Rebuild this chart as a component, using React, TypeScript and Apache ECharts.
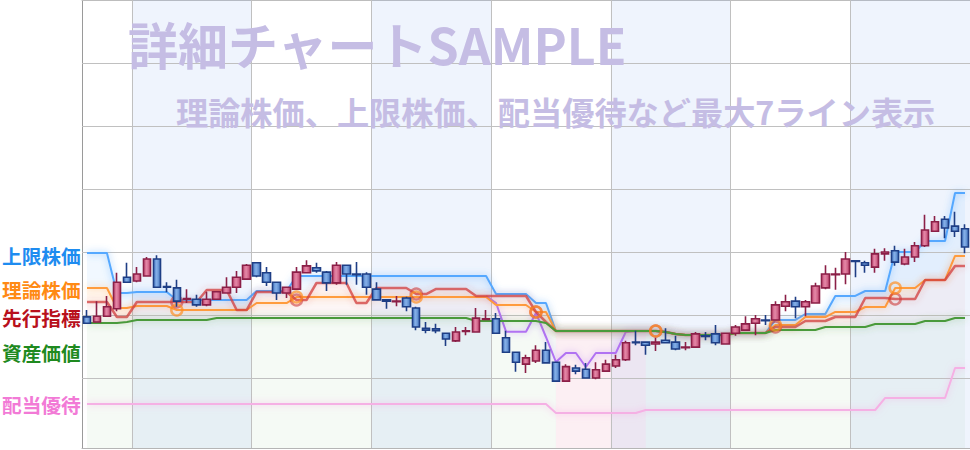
import React, { useEffect, useRef } from 'react';
import * as echarts from 'echarts';

// [open, close, low, high]
const CANDLES: number[][] = [
  [1097, 1087, 1086, 1108], [1089, 1098, 1089, 1122], [1098, 1113, 1098, 1130], [1110, 1152, 1106, 1167],
  [1160, 1152, 1152, 1183], [1154, 1165, 1152, 1176], [1162, 1189, 1162, 1192], [1189, 1144, 1144, 1195],
  [1145, 1144, 1136, 1152], [1143, 1122, 1113, 1156], [1125, 1126, 1119, 1141], [1125, 1116, 1113, 1132],
  [1116, 1125, 1114, 1137], [1125, 1137, 1124, 1138], [1135, 1144, 1135, 1160], [1144, 1160, 1135, 1170],
  [1157, 1179, 1157, 1181], [1183, 1162, 1160, 1184], [1167, 1152, 1146, 1176], [1152, 1135, 1124, 1152],
  [1135, 1144, 1127, 1144], [1141, 1168, 1140, 1176], [1167, 1178, 1167, 1187], [1175, 1170, 1167, 1183],
  [1168, 1151, 1138, 1170], [1151, 1179, 1148, 1184], [1179, 1165, 1148, 1179], [1165, 1164, 1148, 1184],
  [1165, 1144, 1132, 1168], [1141, 1124, 1124, 1152], [1124, 1122, 1110, 1124], [1121, 1122, 1114, 1130],
  [1127, 1113, 1106, 1129], [1111, 1081, 1076, 1113], [1079, 1076, 1071, 1089], [1078, 1075, 1071, 1086],
  [1071, 1062, 1051, 1071], [1059, 1073, 1057, 1081], [1074, 1075, 1068, 1081], [1073, 1095, 1073, 1111],
  [1093, 1094, 1092, 1108], [1094, 1071, 1071, 1103], [1064, 1041, 1041, 1075], [1041, 1025, 1010, 1041],
  [1022, 1032, 1008, 1037], [1027, 1044, 1024, 1052], [1044, 1024, 1024, 1057], [1025, 995, 995, 1025],
  [995, 1018, 995, 1022], [1016, 1011, 1006, 1021], [1014, 1000, 1000, 1024], [1000, 1013, 998, 1025],
  [1011, 1022, 1010, 1029], [1019, 1029, 1016, 1037], [1029, 1056, 1027, 1059], [1057, 1056, 1052, 1075],
  [1057, 1052, 1037, 1057], [1054, 1057, 1043, 1064], [1060, 1056, 1056, 1079], [1057, 1046, 1044, 1067],
  [1048, 1049, 1044, 1057], [1049, 1070, 1048, 1073], [1067, 1066, 1060, 1073], [1070, 1056, 1052, 1084],
  [1054, 1071, 1054, 1071], [1071, 1081, 1067, 1084], [1076, 1086, 1075, 1098], [1087, 1094, 1068, 1100],
  [1092, 1091, 1084, 1100], [1092, 1116, 1091, 1122], [1114, 1121, 1106, 1132], [1122, 1113, 1095, 1129],
  [1113, 1121, 1098, 1124], [1119, 1146, 1118, 1151], [1143, 1165, 1141, 1179], [1164, 1165, 1140, 1175],
  [1165, 1189, 1149, 1200], [1186, 1185, 1160, 1187], [1183, 1179, 1167, 1186], [1176, 1197, 1167, 1205],
  [1197, 1200, 1186, 1206], [1202, 1184, 1178, 1210], [1181, 1192, 1179, 1205], [1192, 1210, 1184, 1216],
  [1210, 1235, 1208, 1259], [1233, 1248, 1232, 1257], [1252, 1238, 1222, 1257], [1241, 1233, 1224, 1264],
  [1237, 1208, 1198, 1244],
];

const CATEGORIES = CANDLES.map((_, i) => String(i + 1));

// 上限株価
const UPPER = [
  1198.4, 1198.4, 1198.4, 1134.9, 1134.9, 1136.5, 1136.5, 1136.5, 1136.5, 1123.8, 1123.8, 1123.8,
  1123.8, 1123.8, 1123.8, 1123.8, 1123.8, 1138.1, 1138.1, 1138.1, 1138.1, 1161.9, 1161.9, 1161.9,
  1161.9, 1161.9, 1161.9, 1161.9, 1161.9, 1161.9, 1161.9, 1161.9, 1161.9, 1161.9, 1161.9, 1161.9,
  1161.9, 1161.9, 1161.9, 1161.9, 1161.9, 1133.3, 1133.3, 1133.3, 1133.3, 1119.0, 1119.0, 1074.6,
  1074.6, 1074.6, 1074.6, 1074.6, 1074.6, 1074.6, 1074.6, 1074.6, 1074.6, 1074.6, 1073.0, 1069.8,
  1068.3, 1068.3, 1068.3, 1068.3, 1068.3, 1071.4, 1071.4, 1071.4, 1071.4, 1092.1, 1092.1, 1092.1,
  1101.6, 1101.6, 1101.6, 1130.2, 1130.2, 1130.2, 1138.1, 1138.1, 1138.1, 1200.0, 1200.0, 1200.0,
  1217.5, 1217.5, 1217.5, 1293.7, 1293.7,
];

// 理論株価
const THEORY = [
  1142.9, 1142.9, 1142.9, 1111.1, 1111.1, 1114.3, 1114.3, 1114.3, 1114.3, 1107.9, 1107.9, 1107.9,
  1107.9, 1107.9, 1107.9, 1107.9, 1107.9, 1119.0, 1119.0, 1119.0, 1119.0, 1128.6, 1128.6, 1128.6,
  1128.6, 1128.6, 1128.6, 1128.6, 1128.6, 1128.6, 1128.6, 1128.6, 1128.6, 1128.6, 1128.6, 1128.6,
  1128.6, 1128.6, 1128.6, 1128.6, 1128.6, 1115.9, 1115.9, 1115.9, 1115.9, 1104.8, 1104.8, 1074.6,
  1074.6, 1074.6, 1074.6, 1074.6, 1074.6, 1074.6, 1074.6, 1074.6, 1074.6, 1074.6, 1073.0, 1069.8,
  1068.3, 1068.3, 1068.3, 1068.3, 1068.3, 1071.4, 1071.4, 1071.4, 1071.4, 1084.1, 1084.1, 1084.1,
  1096.8, 1096.8, 1096.8, 1104.8, 1104.8, 1104.8, 1112.7, 1112.7, 1112.7, 1142.9, 1142.9, 1142.9,
  1155.6, 1155.6, 1155.6, 1193.7, 1193.7,
];

// 先行指標
const LEADING = [
  1120.6, 1120.6, 1120.6, 1096.8, 1096.8, 1120.6, 1120.6, 1120.6, 1120.6, 1120.6, 1120.6, 1120.6,
  1139.7, 1139.7, 1139.7, 1107.9, 1107.9, 1136.5, 1136.5, 1136.5, 1136.5, 1123.8, 1123.8, 1150.8,
  1150.8, 1150.8, 1150.8, 1119.0, 1119.0, 1142.9, 1142.9, 1142.9, 1142.9, 1133.3, 1133.3, 1141.3,
  1141.3, 1141.3, 1141.3, 1130.2, 1130.2, 1130.2, 1130.2, 1130.2, 1130.2, 1104.8, 1088.9, 1074.6,
  1074.6, 1074.6, 1074.6, 1074.6, 1074.6, 1074.6, 1074.6, 1074.6, 1074.6, 1074.6, 1073.0, 1069.8,
  1068.3, 1068.3, 1068.3, 1068.3, 1068.3, 1071.4, 1071.4, 1071.4, 1071.4, 1081.0, 1081.0, 1081.0,
  1090.5, 1090.5, 1090.5, 1096.8, 1096.8, 1096.8, 1127.0, 1127.0, 1127.0, 1125.4, 1125.4, 1125.4,
  1155.6, 1155.6, 1155.6, 1177.8, 1177.8,
];

// 資産価値
const ASSET = [
  1087.3, 1087.3, 1087.3, 1087.3, 1088.9, 1092.1, 1092.1, 1092.1, 1092.1, 1092.1, 1092.1, 1092.1,
  1092.1, 1095.2, 1095.2, 1095.2, 1095.2, 1095.2, 1095.2, 1095.2, 1095.2, 1095.2, 1095.2, 1095.2,
  1095.2, 1095.2, 1095.2, 1095.2, 1095.2, 1095.2, 1095.2, 1095.2, 1095.2, 1095.2, 1095.2, 1095.2,
  1095.2, 1095.2, 1095.2, 1090.5, 1090.5, 1090.5, 1090.5, 1090.5, 1090.5, 1090.5, 1087.3, 1074.6,
  1074.6, 1074.6, 1074.6, 1074.6, 1074.6, 1074.6, 1074.6, 1074.6, 1074.6, 1074.6, 1073.0, 1069.8,
  1068.3, 1068.3, 1068.3, 1068.3, 1068.3, 1071.4, 1071.4, 1071.4, 1071.4, 1076.2, 1076.2, 1076.2,
  1076.2, 1076.2, 1081.0, 1081.0, 1081.0, 1081.0, 1081.0, 1085.7, 1085.7, 1085.7, 1085.7, 1085.7,
  1090.5, 1090.5, 1090.5, 1095.2, 1095.2,
];

// 6th line (purple)
const PURPLE: (number | null)[] = [
  null, null, null, null, null, null, null, null, null, null, null, null,
  null, null, null, null, null, null, null, null, null, null, null, null,
  null, null, null, null, null, null, null, null, null, null, null, null,
  null, null, null, null, 1130.2, 1119.0, 1073.5, 1073.5, 1073.5, 1103.2, 1065.1, 1025.4,
  1039.7, 1039.7, 1017.5, 1039.7, 1039.7, 1039.7, 1073.0, 1074.6, 1074.6, 1074.6, 1073.0, 1069.8,
  1068.3, 1068.3, 1068.3, 1068.3, 1068.3, 1071.4, 1071.4, 1071.4, 1071.4, null, null, null,
  null, null, null, null, null, null, null, null, null, null, null, null,
  null, null, null, null, null,
];

// 配当優待
const DIVIDEND = [
  958.7, 958.7, 958.7, 958.7, 958.7, 958.7, 958.7, 958.7, 958.7, 958.7, 958.7, 958.7,
  958.7, 958.7, 958.7, 958.7, 958.7, 958.7, 958.7, 958.7, 958.7, 958.7, 958.7, 958.7,
  958.7, 958.7, 958.7, 958.7, 958.7, 958.7, 958.7, 958.7, 958.7, 958.7, 958.7, 958.7,
  958.7, 958.7, 958.7, 958.7, 958.7, 958.7, 958.7, 958.7, 958.7, 958.7, 958.7, 944.4,
  944.4, 944.4, 944.4, 944.4, 944.4, 944.4, 944.4, 944.4, 949.2, 949.2, 949.2, 949.2,
  949.2, 949.2, 949.2, 949.2, 949.2, 949.2, 949.2, 949.2, 949.2, 949.2, 949.2, 949.2,
  949.2, 949.2, 949.2, 949.2, 949.2, 949.2, 949.2, 949.2, 968.3, 968.3, 968.3, 968.3,
  968.3, 968.3, 968.3, 1015.9, 1015.9,
];

const SIGNAL_IDX = [9, 21, 33, 45, 57, 69, 81];
const MONTH_STARTS = [5, 17, 29, 41, 53, 65, 77];
const SHADED_MONTHS = [[5, 17], [29, 41], [53, 65], [77, 89]];
const H_GRID = [1000, 1100, 1200, 1300, 1400, 1500];
const PINK_ZONE = [47, 56];
const Y_MIN = 888.9;
const Y_MAX = 1600;

const FONT = '"Noto Sans CJK JP", "Noto Sans", sans-serif';

const LABELS = [
  { text: '上限株価', color: '#1e8cf0', y: 255 },
  { text: '理論株価', color: '#ff8a14', y: 289.5 },
  { text: '先行指標', color: '#b8101c', y: 317 },
  { text: '資産価値', color: '#1f8a1f', y: 352.5 },
  { text: '配当優待', color: '#f27ad6', y: 404.5 },
];

export default function App() {
  const ref = useRef<HTMLDivElement>(null);
  useEffect(() => {
    if (!ref.current) return;
    const chart = echarts.init(ref.current, undefined, { renderer: 'svg' });

    const topR = LEADING.map((r, i) => Math.max(r, ASSET[i]));
    const topO = THEORY.map((o, i) => Math.max(o, topR[i]));
    const topB = UPPER.map((b, i) => Math.max(b, topO[i]));
    const bandG = ASSET;
    const bandR = topR.map((v, i) => +(v - ASSET[i]).toFixed(2));
    const bandO = topO.map((v, i) => +(v - topR[i]).toFixed(2));
    const bandB = topB.map((v, i) => +(v - topO[i]).toFixed(2));

    const band = (data: number[], color: string) => ({
      type: 'line', stack: 'bands', data, symbol: 'none', showSymbol: false, silent: true, z: 2,
      lineStyle: { width: 0, opacity: 0 }, areaStyle: { color, opacity: 1 },
    });

    const line = (name: string, data: (number | null)[], color: string, glow: string, width = 2) => ({
      name, type: 'line', data, symbol: 'none', showSymbol: false, silent: true, z: 3,
      lineStyle: { color, width, shadowBlur: 7, shadowColor: glow },
    });

    const upFill = new echarts.graphic.LinearGradient(0, 0, 1, 0, [
      { offset: 0, color: '#c54d77' }, { offset: 0.45, color: '#e488a7' }, { offset: 1, color: '#bf4670' },
    ]);
    const downFill = new echarts.graphic.LinearGradient(0, 0, 1, 0, [
      { offset: 0, color: '#4b7fc8' }, { offset: 0.45, color: '#86b0e8' }, { offset: 1, color: '#4678c0' },
    ]);

    const option: any = {
      animation: false,
      backgroundColor: '#ffffff',
      grid: { left: 82, right: -2, top: 0, bottom: 2 },
      xAxis: [
        {
          type: 'category', data: CATEGORIES, boundaryGap: true,
          axisLine: { show: true, onZero: false, lineStyle: { color: '#b5b5b5' } },
          axisTick: { show: false }, axisLabel: { show: false }, splitLine: { show: false },
        },
        {
          type: 'value', min: 0, max: CANDLES.length, position: 'top',
          axisLine: { show: true, onZero: false, lineStyle: { color: '#bdbdbd' } },
          axisTick: { show: false }, axisLabel: { show: false }, splitLine: { show: false },
        },
      ],
      yAxis: {
        type: 'value', min: Y_MIN, max: Y_MAX,
        axisLine: { show: true, lineStyle: { color: '#9a9a9a' } },
        axisTick: { show: false }, axisLabel: { show: false }, splitLine: { show: false },
      },
      graphic: [
        {
          type: 'text', x: 128, y: 43, z: 10, silent: true,
          style: { text: '詳細チャートSAMPLE', fill: '#c5bde4', fontSize: 50, fontWeight: 'bold', fontFamily: FONT, align: 'left', verticalAlign: 'middle' },
        },
        {
          type: 'text', x: 176, y: 111, z: 10, silent: true,
          style: { text: '理論株価、上限株価、配当優待など最大7ライン表示', fill: '#c5bde4', fontSize: 32.2, fontWeight: 'bold', fontFamily: FONT, align: 'left', verticalAlign: 'middle' },
        },
        ...LABELS.map((l) => ({
          type: 'text', x: 2, y: l.y, z: 10, silent: true,
          style: { text: l.text, fill: l.color, fontSize: 19.7, fontWeight: 'bold', fontFamily: FONT, align: 'left', verticalAlign: 'middle' },
        })),
      ],
      series: [
        {
          type: 'line', xAxisIndex: 1, yAxisIndex: 0, data: [], symbol: 'none', silent: true,
          markArea: {
            silent: true, z: 2.6,
            itemStyle: { color: 'rgba(130,170,240,0.13)' },
            data: SHADED_MONTHS.map(([a, b]) => [{ xAxis: a }, { xAxis: b }]),
          },
          markLine: {
            silent: true, symbol: 'none', z: 2.7, animation: false,
            label: { show: false },
            lineStyle: { color: '#c0c0c0', width: 1, type: 'solid' },
            data: [
              ...MONTH_STARTS.map((v) => ({ xAxis: v })),
              ...H_GRID.map((v) => ({ yAxis: v })),
            ],
          },
        },
        band(bandG, 'rgba(80,170,70,0.055)'),
        band(bandR, 'rgba(220,80,70,0.05)'),
        band(bandO, 'rgba(255,150,50,0.08)'),
        band(bandB, 'rgba(80,160,250,0.08)'),
        {
          ...line('配当優待', DIVIDEND, '#f5b0e4', 'rgba(245,150,220,0.6)'),
          markArea: {
            silent: true, z: 2.5,
            itemStyle: { color: 'rgba(253,236,242,0.85)' },
            data: [[{ xAxis: PINK_ZONE[0], yAxis: ASSET[PINK_ZONE[0]] }, { xAxis: PINK_ZONE[1], yAxis: Y_MIN }]],
          },
        },
        line('紫', PURPLE, '#b172f2', 'rgba(177,114,242,0.6)'),
        line('上限株価', UPPER, '#55a8ff', 'rgba(85,168,255,0.7)'),
        line('理論株価', THEORY, '#ff9c3e', 'rgba(255,156,62,0.6)'),
        line('先行指標', LEADING, 'rgba(210,60,60,0.75)', 'rgba(210,60,60,0.4)', 2.5),
        line('資産価値', ASSET, '#4a9a3a', 'rgba(74,154,58,0.5)'),
        {
          type: 'scatter', silent: true, z: 4, symbol: 'circle', symbolSize: 11,
          data: SIGNAL_IDX.map((i) => [i, LEADING[i]]),
          itemStyle: { color: 'rgba(0,0,0,0)', borderColor: 'rgba(205,60,60,0.75)', borderWidth: 2.5 },
        },
        {
          type: 'scatter', silent: true, z: 4, symbol: 'circle', symbolSize: 11,
          data: SIGNAL_IDX.map((i) => [i, THEORY[i]]),
          itemStyle: { color: 'rgba(0,0,0,0)', borderColor: 'rgba(255,140,30,0.85)', borderWidth: 2.5 },
        },
        {
          type: 'candlestick', data: CANDLES, barWidth: 8, z: 5, silent: true,
          itemStyle: {
            color: upFill, color0: downFill,
            borderColor: '#8b1f47', borderColor0: '#1e3e85', borderWidth: 1.6,
          },
        },
      ],
    };
    chart.setOption(option);
    return () => chart.dispose();
  }, []);

  return (
    <div
      ref={ref}
      style={{ position: 'fixed', left: 0, top: 0, width: 970, height: 450, background: '#fff' }}
    />
  );
}
